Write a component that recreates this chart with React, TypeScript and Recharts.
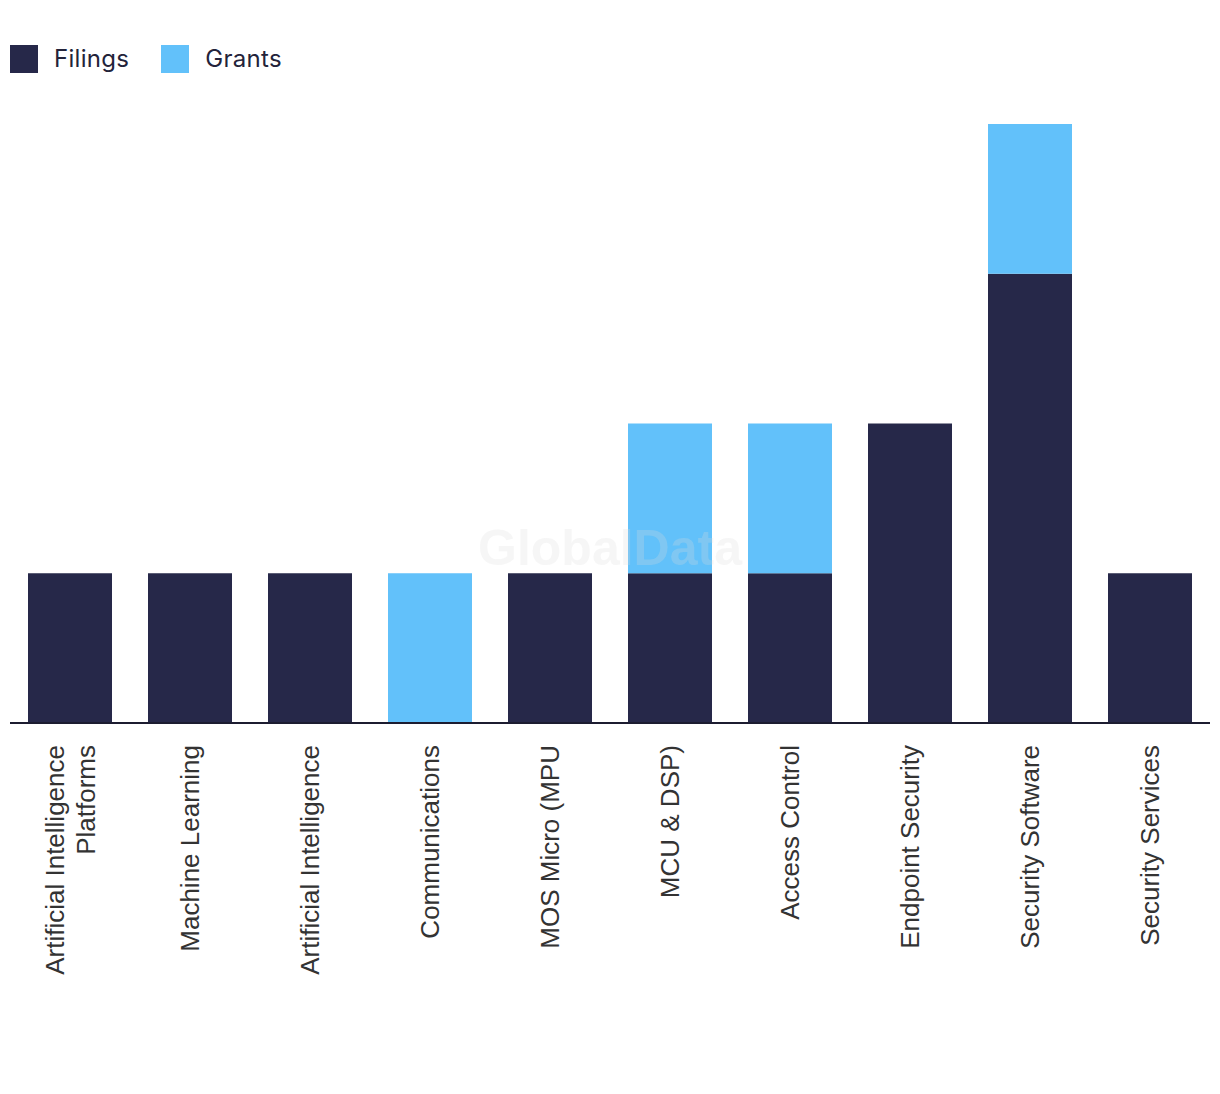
import React from "react";
import { BarChart, Bar, XAxis, YAxis } from "recharts";

const categories = [
  "Artificial Intelligence\nPlatforms",
  "Machine Learning",
  "Artificial Intelligence",
  "Communications",
  "MOS Micro (MPU",
  "MCU & DSP)",
  "Access Control",
  "Endpoint Security",
  "Security Software",
  "Security Services",
];
const filings = [1, 1, 1, 0, 1, 1, 1, 2, 3, 1];
const grants = [0, 0, 0, 1, 0, 1, 1, 0, 1, 0];
const legendItems = [
  { key: "filings", label: "Filings", color: "#262849" },
  { key: "grants", label: "Grants", color: "#62c1fa" },
];

const data = categories.map((c, i) => ({ name: c, filings: filings[i], grants: grants[i] }));

const Tick = (props: any) => {
  const { x, y, payload } = props;
  const lines = String(payload.value).split("\n");
  const lh = 31;
  const start = -((lines.length - 1) * lh) / 2;
  return (
    <g transform={`translate(${x},${y + 22}) rotate(-90)`}>
      {lines.map((l, i) => (
        <text
          key={i}
          x={0}
          y={start + i * lh}
          dy="0.36em"
          textAnchor="end"
          fill="#333333"
          fontSize={26}
          fontFamily="'Liberation Sans', Arial, sans-serif"
        >
          {l}
        </text>
      ))}
    </g>
  );
};

export default function App() {
  return (
    <div style={{ position: "relative", width: 1204, height: 1086 }}>
      <div
        style={{
          position: "absolute",
          left: 2,
          top: 36,
          display: "flex",
          alignItems: "center",
          fontFamily: "Inter, 'Open Sans', sans-serif",
          fontSize: 24,
          letterSpacing: 0.3,
          color: "#23233a",
        }}
      >
        {legendItems.map((it, i) => (
          <div key={it.key} style={{ display: "flex", alignItems: "center", marginRight: 32 }}>
            <div style={{ width: 28, height: 28, background: it.color, marginRight: 16 }} />
            <span>{it.label}</span>
          </div>
        ))}
      </div>
      <BarChart
        width={1204}
        height={1086}
        data={data}
        margin={{ top: 116, right: 2, left: 2, bottom: 71 }}
        barCategoryGap="15%"
      >
        <XAxis
          dataKey="name"
          height={300}
          interval={0}
          tickLine={false}
          tickSize={0}
          tickMargin={0}
          axisLine={{ stroke: "#1c1c30", strokeWidth: 2 }}
          tick={<Tick />}
        />
        <YAxis hide domain={[0, 4]} />
        <Bar dataKey="filings" stackId="a" fill="#262849" isAnimationActive={false} />
        <Bar dataKey="grants" stackId="a" fill="#62c1fa" isAnimationActive={false} />
      </BarChart>
      <svg
        width={1204}
        height={1086}
        style={{ position: "absolute", left: 0, top: 0, pointerEvents: "none" }}
      >
        <text
          x={602}
          y={557}
          textAnchor="middle"
          fontSize={50}
          fontWeight="bold"
          fontFamily="'Liberation Sans', Arial, sans-serif"
          fill="#dcdcdc"
          fillOpacity={0.25}
        >
          GlobalData
        </text>
      </svg>
    </div>
  );
}
